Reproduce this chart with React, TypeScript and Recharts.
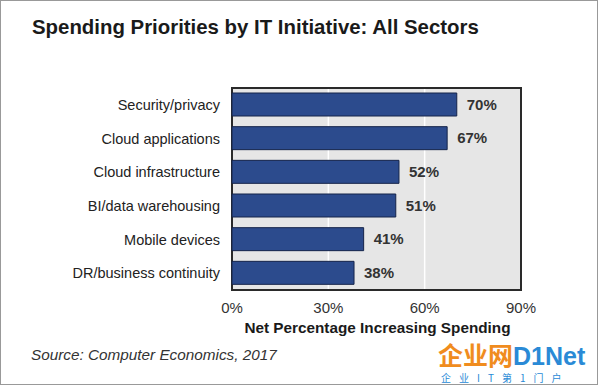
import { BarChart, Bar, XAxis, YAxis, CartesianGrid, LabelList, ReferenceArea } from 'recharts'

const initiatives = [
  'Security/privacy',
  'Cloud applications',
  'Cloud infrastructure',
  'BI/data warehousing',
  'Mobile devices',
  'DR/business continuity',
]
const netIncrease = [70, 67, 52, 51, 41, 38]
const xTicks = [0, 30, 60, 90]

const rows = initiatives.map((name, i) => ({ name, value: netIncrease[i] }))

const font = '"Liberation Sans", Arial, sans-serif'

export default function App() {
  return (
    <div
      style={{
        position: 'fixed',
        left: 0,
        top: 0,
        width: 598,
        height: 385,
        background: '#fff',
        fontFamily: font,
        boxSizing: 'border-box',
        border: '1px solid #999',
        overflow: 'hidden',
      }}
    >
      <div
        style={{
          position: 'absolute',
          left: 31,
          top: 15,
          fontSize: 20.4,
          fontWeight: 'bold',
          color: '#1a1a1a',
          whiteSpace: 'nowrap',
        }}
      >
        Spending Priorities by IT Initiative: All Sectors
      </div>
      <div style={{ position: 'absolute', left: -1, top: -1 }}>
        <BarChart
          width={598}
          height={385}
          data={rows}
          layout="vertical"
          margin={{ top: 88, right: 77, bottom: 65, left: 0 }}
          barCategoryGap={0}
        >
          <CartesianGrid
            horizontal={false}
            vertical
            fill="#e6e6e6"
            stroke="#ffffff"
            strokeWidth={1.5}
          />
          <XAxis
            type="number"
            domain={[0, 90]}
            ticks={xTicks}
            tickFormatter={(v: number) => `${v}%`}
            axisLine={false}
            tickLine={false}
            tickMargin={6}
            height={30}
            tick={{ fill: '#333', fontSize: 15, fontFamily: font }}
          />
          <YAxis
            type="category"
            dataKey="name"
            width={232}
            axisLine={false}
            tickLine={false}
            tickMargin={6}
            tick={{ fill: '#222', fontSize: 14.5, fontFamily: font }}
          />
          <Bar
            dataKey="value"
            fill="#2c4b8d"
            stroke="#15244a"
            strokeWidth={1}
            barSize={23}
            isAnimationActive={false}
          >
            <LabelList
              dataKey="value"
              position="right"
              offset={10}
              formatter={(v: any) => `${v}%`}
              style={{ fill: '#333', fontSize: 15, fontWeight: 'bold', fontFamily: font }}
            />
          </Bar>
          <ReferenceArea
            x1={0}
            x2={90}
            fill="none"
            stroke="#2a2a2a"
            strokeWidth={2}
            ifOverflow="visible"
          />
        </BarChart>
      </div>
      <div
        style={{
          position: 'absolute',
          left: 232,
          width: 289,
          top: 318,
          textAlign: 'center',
          fontSize: 15.3,
          fontWeight: 'bold',
          color: '#1a1a1a',
          whiteSpace: 'nowrap',
        }}
      >
        Net Percentage Increasing Spending
      </div>
      <div
        style={{
          position: 'absolute',
          left: 30,
          top: 345,
          fontSize: 15.3,
          fontStyle: 'italic',
          color: '#333',
        }}
      >
        Source: Computer Economics, 2017
      </div>
      <div
        style={{
          position: 'absolute',
          left: 437,
          top: 341,
          fontSize: 25,
          fontWeight: 'bold',
          whiteSpace: 'nowrap',
          lineHeight: '25px',
        }}
      >
        <span style={{ color: '#f08c1e', fontFamily: '"Noto Sans CJK SC", sans-serif' }}>企业网</span>
        <span style={{ color: '#2a8ad6' }}>D1Net</span>
      </div>
      <div
        style={{
          position: 'absolute',
          left: 440,
          top: 371,
          fontSize: 10,
          lineHeight: '12px',
          letterSpacing: 8,
          color: '#2a8ad6',
          whiteSpace: 'nowrap',
          fontFamily: '"Noto Sans CJK SC", sans-serif',
        }}
      >
        企业IT第1门户
      </div>
    </div>
  )
}
